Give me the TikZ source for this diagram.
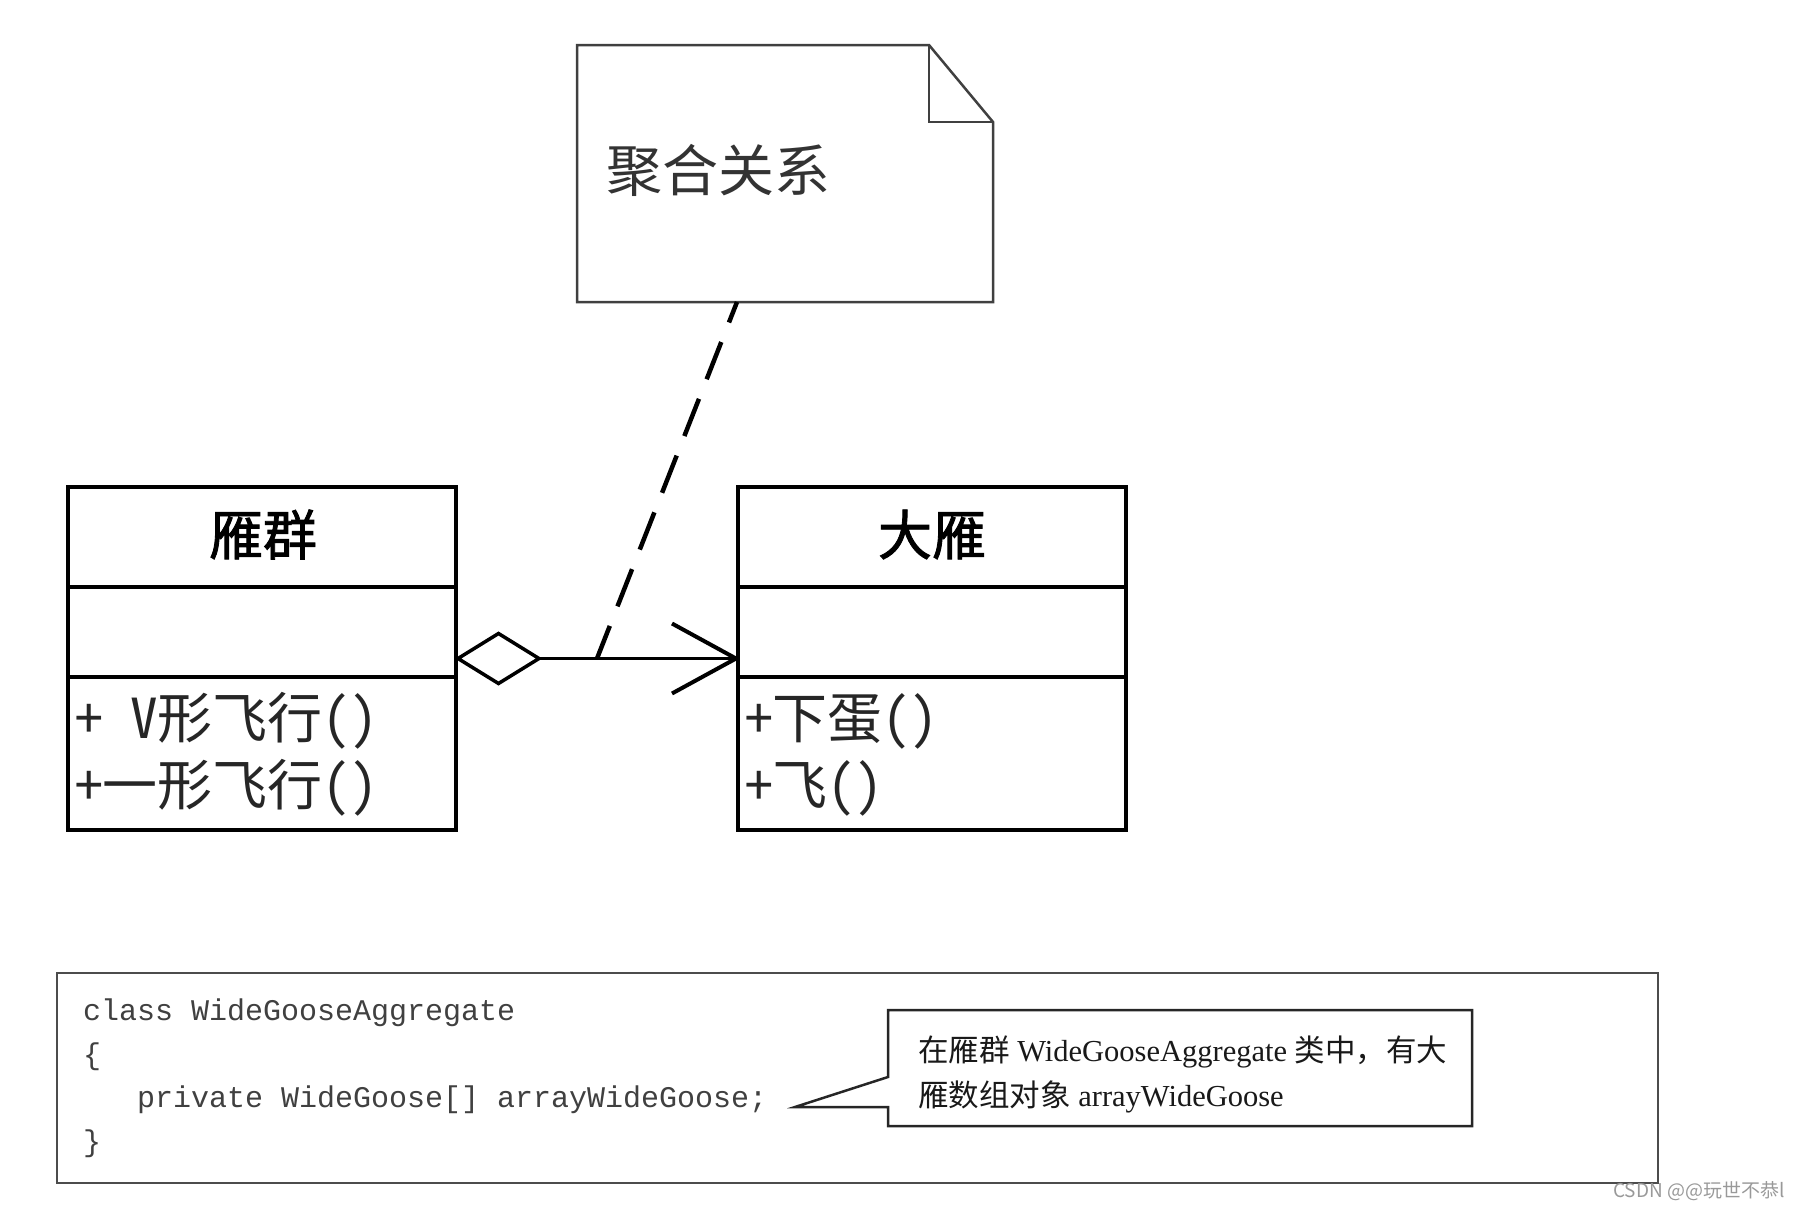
\documentclass[tikz,border=0pt]{standalone}
\usepackage{fontspec}
\setmainfont{Liberation Serif}
\setmonofont{Liberation Mono}
\newfontfamily\cjk{Noto Sans CJK SC}
\newfontfamily\cjkhw[RawFeature=+hwid]{Noto Sans CJK SC}
\newfontfamily\cjktitle[FakeBold=1.6]{Noto Sans CJK SC}
\usetikzlibrary{calc}
\begin{document}
\begin{tikzpicture}[x=1pt,y=-1pt,
  classbox/.style={draw=black, line width=4pt, minimum width=388pt, minimum height=343pt, inner sep=0pt},
  classline/.style={line width=4pt},
  notebody/.style={line width=2.5pt, draw=black!75, line join=miter},
  classtitle/.style={font=\cjktitle\fontsize{54}{54}\selectfont, anchor=base, inner sep=0pt},
  method/.style={font=\cjkhw\fontsize{55}{55}\selectfont, anchor=base west, inner sep=0pt, text=black!85},
  codetext/.style={font=\ttfamily\fontsize{30}{30}\selectfont, anchor=base west, inner sep=0pt, text=black!75},
  calltext/.style={font=\fontsize{30.5}{30.5}\selectfont, anchor=base west, inner sep=0pt, text=black!90},
  emptybox/.style={inner sep=0pt, outer sep=0pt}
]
\useasboundingbox (0,0) rectangle (1800,1208);

% ---- note ----
\node[emptybox, minimum width=416pt, minimum height=257pt] (note) at (785,173.5) {};
\draw[notebody] (note.north west) -- ($(note.north east)+(-64,0)$) -- ($(note.north east)+(0,77)$)
  -- (note.south east) -- (note.south west) -- cycle;
\draw[notebody] ($(note.north east)+(-64,0)$) -- ($(note.north east)+(-64,77)$) -- ($(note.north east)+(0,77)$);
\node[font=\cjk\fontsize{56}{56}\selectfont, anchor=base west, inner sep=0pt, text=black!80] (notetxt) at (606,191) {聚合关系};

% ---- class 雁群 ----
\node[classbox] (c1) at (262,658.5) {};
\draw[classline] ($(c1.north west)+(0,102)$) -- ($(c1.north east)+(0,102)$);
\draw[classline] ($(c1.north west)+(0,192)$) -- ($(c1.north east)+(0,192)$);
\node[classtitle] (c1t) at (263,555) {雁群};
\node[method] (c1m1) at (75,738) {+ V形飞行()};
\node[method] (c1m2) at (75,805) {+一形飞行()};

% ---- class 大雁 ----
\node[classbox] (c2) at (932,658.5) {};
\draw[classline] ($(c2.north west)+(0,102)$) -- ($(c2.north east)+(0,102)$);
\draw[classline] ($(c2.north west)+(0,192)$) -- ($(c2.north east)+(0,192)$);
\node[classtitle] (c2t) at (932,555) {大雁};
\node[method] (c2m1) at (745,738) {+下蛋()};
\node[method] (c2m2) at (745,805) {+飞()};

% ---- aggregation ----
\draw[line width=3.5pt, line join=miter] (c1.east) -- ++(40.5,-25) -- ++(40.5,25) coordinate (dtip)
  -- ++(-40.5,25) -- cycle;
\draw[line width=3pt] (dtip) -- (c2.west);
\draw[line width=4pt, line join=round] ($(c2.west)+(-64,-35)$) -- (c2.west) -- ($(c2.west)+(-64,35)$);

% ---- dashed anchor line ----
\coordinate (dashend) at (597,658.5);
\draw[line width=4.5pt, dash pattern=on 40pt off 21pt, dash phase=18pt] ($(note.south west)+(160,0)$) -- (dashend);

% ---- code box ----
\node[draw=black!70, line width=2.5pt, minimum width=1601pt, minimum height=210pt, inner sep=0pt] (code) at (857.5,1078) {};
\node[codetext] (l1) at (83,1020) {class WideGooseAggregate};
\node[codetext] (l2) at (83,1064) {\{};
\node[codetext] (l3) at (137,1107) {private WideGoose[] arrayWideGoose;};
\node[codetext] (l4) at (83,1151) {\}};

% ---- callout ----
\node[emptybox, minimum width=584pt, minimum height=116pt] (callout) at (1180,1068) {};
\coordinate (ptip) at (795,1107);
\draw[line width=2.5pt, draw=black!85, line join=miter] (callout.north west) -- (callout.north east) -- (callout.south east)
  -- (callout.south west) -- ($(callout.south west)+(0,-19)$) -- (ptip) -- ($(callout.south west)+(0,-49)$) -- cycle;
\node[calltext] (ct1) at (918,1061) {{\cjk 在雁群} WideGooseAggregate {\cjk 类中，有大}};
\node[calltext] (ct2) at (918,1106) {{\cjk 雁数组对象} arrayWideGoose};

% ---- watermark ----
\node[font=\cjk\fontsize{19}{19}\selectfont, text=black!40, anchor=base west, inner sep=0pt] (wm) at (1613,1197) {CSDN @@玩世不恭l};
\end{tikzpicture}
\end{document}
